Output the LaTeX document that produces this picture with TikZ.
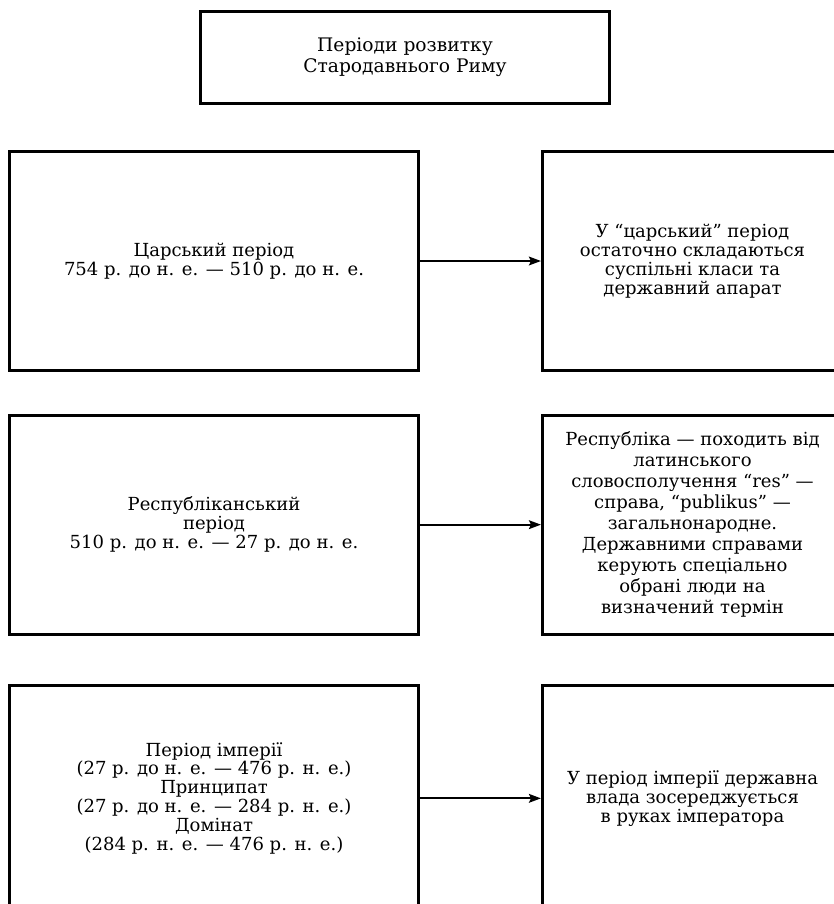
\documentclass[tikz,border=0pt]{standalone}
\usepackage{fontspec}
\setmainfont{DejaVu Serif}
\usepackage{tikz}
\usetikzlibrary{arrows.meta,positioning}

\begin{document}
\begin{tikzpicture}[
    x=0.75pt, y=-0.75pt,
    node distance=31.5pt and 90.75pt,
    box/.style={draw, line width=2.25pt, align=center, inner sep=2pt,
      font=\fontsize{13.5}{14.2}\selectfont},
    title/.style={box, minimum width=306.75pt, minimum height=69pt,
      font=\fontsize{14}{15.75}\selectfont},
    period/.style={box, minimum width=306.75pt, minimum height=164pt},
    info/.style={box, minimum width=225pt, minimum height=164pt},
    arrow/.style={-{Stealth[length=9pt, width=6.5pt, inset=1.5pt]}, line width=1.6pt}
  ]
  \useasboundingbox (0,0) rectangle (834,904);
  \clip (0,0) rectangle (834,904);

  % Title
  \node[title] (rome) at (405,57.5) {Періоди розвитку\\Стародавнього Риму};

  % Periods
  \node[period] (tsar) at (214,261) {Царський період\\754 р. до н. е. — 510 р. до н. е.};
  \node[period, below=of tsar] (rep) {Республіканський\\період\\510 р. до н. е. — 27 р. до н. е.};
  \node[period, below=36pt of rep.south, anchor=north, minimum height=170pt] (emp) {Період імперії\\(27 р. до н. е. — 476 р. н. е.)\\Принципат\\(27 р. до н. е. — 284 р. н. е.)\\Домінат\\(284 р. н. е. — 476 р. н. е.)};

  % Notes
  \node[info, right=of tsar] (tsar_note) {У “царський” період\\остаточно складаються\\суспільні класи та\\державний апарат};
  \node[info, right=of rep, font=\fontsize{13.5}{15.75}\selectfont] (rep_note) {Республіка — походить від\\латинського\\словосполучення “res” —\\справа, “publikus” —\\загальнонародне.\\Державними справами\\керують спеціально\\обрані люди на\\визначений термін};
  \node[info, right=of emp, minimum height=170pt] (emp_note) {У період імперії державна\\влада зосереджується\\в руках імператора};

  % Connections
  \draw[arrow] (tsar) -- (tsar_note);
  \draw[arrow] (rep) -- (rep_note);
  \draw[arrow] (emp) -- (emp_note);

\end{tikzpicture}
\end{document}
